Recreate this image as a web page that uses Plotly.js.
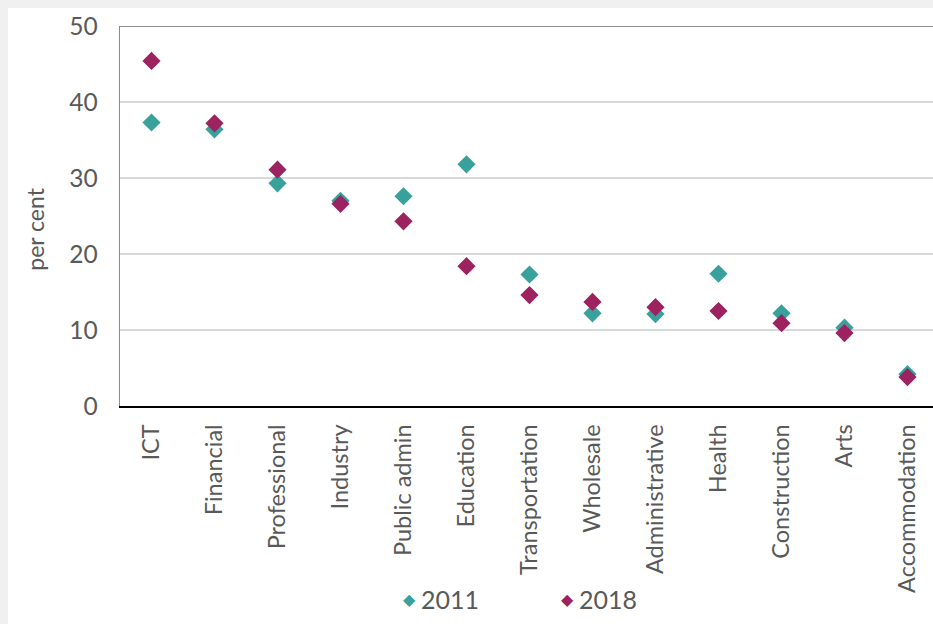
<!DOCTYPE html>
<html>
<head>
<meta charset="utf-8">
<script src="https://cdn.plot.ly/plotly-3.0.1.min.js"></script>
<style>
  html, body { margin: 0; padding: 0; background: #f0f0f0; overflow: hidden; width: 933px; height: 624px; }
  #chart { position: absolute; left: 8px; top: 8px; width: 940px; height: 620px; background: #ffffff; }
</style>
</head>
<body>
<div id="chart"></div>
<script>
// Share of employees by industry, 2011 vs 2018 (per cent)
const industries = ["ICT", "Financial", "Professional", "Industry", "Public admin", "Education",
                    "Transportation", "Wholesale", "Administrative", "Health", "Construction",
                    "Arts", "Accommodation"];
const values2011 = [37.3, 36.4, 29.3, 27.0, 27.6, 31.8, 17.3, 12.2, 12.1, 17.4, 12.2, 10.3, 4.2];
const values2018 = [45.4, 37.2, 31.1, 26.6, 24.3, 18.4, 14.6, 13.7, 13.0, 12.5, 10.9, 9.6, 3.8];
const yTicks = [0, 10, 20, 30, 40, 50];
const seriesNames = ["2011", "2018"];
const yTitle = "per cent";

const teal = "#39a19b";
const plum = "#9c2360";
const textGrey = "#595959";
const font = "Lato, 'Open Sans', sans-serif";

const traces = [
  { x: industries, y: values2011, name: seriesNames[0], type: "scatter", mode: "markers",
    marker: { symbol: "diamond", size: 14, color: teal }, showlegend: false, hoverinfo: "x+y" },
  { x: industries, y: values2018, name: seriesNames[1], type: "scatter", mode: "markers",
    marker: { symbol: "diamond", size: 14, color: plum }, showlegend: false, hoverinfo: "x+y" }
];

// Legend entries below the axis: a coloured diamond, then the year
const legendItem = (label, color, xSymbol, xText) => [
  { xref: "paper", yref: "paper", x: xSymbol, y: -0.509, xanchor: "center", yanchor: "middle",
    showarrow: false, text: "◆", font: { family: "DejaVu Sans", size: 16, color: color } },
  { xref: "paper", yref: "paper", x: xText, y: -0.507, xanchor: "left", yanchor: "middle",
    showarrow: false, text: label, font: { family: font, size: 25, color: textGrey } }
];

const layout = {
  paper_bgcolor: "#ffffff",
  plot_bgcolor: "#ffffff",
  margin: { l: 112, r: 9, t: 18, b: 222 },
  font: { family: font, color: textGrey },
  showlegend: false,
  xaxis: {
    type: "category",
    range: [-0.5, 12.5],
    showgrid: false,
    showline: true, linecolor: "#000000", linewidth: 2,
    ticks: "", tickangle: -90,
    ticklabelstandoff: 7,
    tickfont: { family: font, size: 23.5, color: textGrey },
    fixedrange: true
  },
  yaxis: {
    range: [0, 50],
    tickvals: yTicks,
    showgrid: true, gridcolor: "#d9d9d9", gridwidth: 1.5,
    zeroline: false,
    showline: true, linecolor: "#8c8c8c", linewidth: 1.5,
    ticks: "", ticklabelstandoff: 16,
    tickfont: { family: font, size: 24.5, color: textGrey },
    fixedrange: true
  },
  shapes: [
    { type: "line", xref: "paper", yref: "y", x0: 0, x1: 1, y0: 50, y1: 50,
      line: { color: "#8c8c8c", width: 2 }, layer: "above" }
  ],
  annotations: [
    { xref: "paper", yref: "paper", x: -0.104, y: 0.466, xanchor: "center", yanchor: "middle",
      textangle: -90, showarrow: false, text: yTitle,
      font: { family: font, size: 23, color: textGrey } },
    ...legendItem(seriesNames[0], teal, 0.3529, 0.3645),
    ...legendItem(seriesNames[1], plum, 0.5458, 0.5575)
  ]
};

Plotly.newPlot("chart", traces, layout, { displayModeBar: false, staticPlot: true });
</script>
</body>
</html>
